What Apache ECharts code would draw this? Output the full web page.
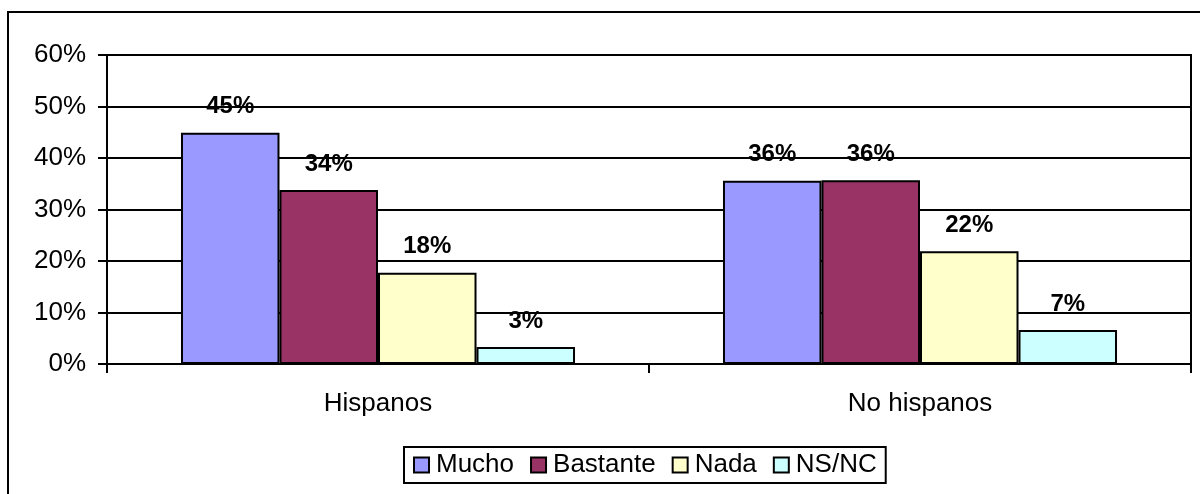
<!DOCTYPE html>
<html>
<head>
<meta charset="utf-8">
<script src="https://cdn.jsdelivr.net/npm/echarts@6/dist/echarts.min.js"></script>
<style>
  html, body { margin: 0; padding: 0; background: #fff; }
  #chart { width: 1200px; height: 494px; }
</style>
</head>
<body>
<div id="chart"></div>
<script>
// Categories and answer groups
const categories = ['Hispanos', 'No hispanos'];
const seriesNames = ['Mucho', 'Bastante', 'Nada', 'NS/NC'];

// Percentages per answer, one value per category
const mucho    = [44.9, 35.6];
const bastante = [33.8, 35.7];
const nada     = [17.7, 21.9];
const nsnc     = [3.3, 6.6];

// Y axis ticks (percent)
const yTicks = [0, 10, 20, 30, 40, 50, 60];

const colors = ['#9999FF', '#993366', '#FFFFCC', '#CCFFFF'];
const values = [mucho, bastante, nada, nsnc];
const FONT = '"Liberation Sans", Arial, sans-serif';

const chart = echarts.init(document.getElementById('chart'), null, { renderer: 'canvas' });

const series = seriesNames.map((name, i) => ({
  name: name,
  type: 'bar',
  data: values[i],
  barGap: '0%',
  barCategoryGap: '27.3%',
  itemStyle: { color: colors[i], borderColor: '#000', borderWidth: 2 },
  emphasis: { disabled: true },
  label: {
    show: true,
    position: 'top',
    distance: 14,
    color: '#000',
    fontFamily: FONT,
    fontWeight: 'bold',
    fontSize: 24,
    formatter: p => Math.round(p.value) + '%'
  }
}));

chart.setOption({
  animation: false,
  backgroundColor: '#fff',
  textStyle: { fontFamily: FONT },
  grid: {
    left: 107, top: 55, right: 9, bottom: 130,
    show: true, borderColor: '#000', borderWidth: 2
  },
  xAxis: {
    type: 'category',
    data: categories,
    boundaryGap: true,
    axisLine: { lineStyle: { color: '#000', width: 2 } },
    axisTick: { show: true, interval: 0, length: 9, lineStyle: { color: '#000', width: 2 } },
    axisLabel: { color: '#000', fontSize: 26, fontFamily: FONT, margin: 27 }
  },
  yAxis: {
    type: 'value',
    min: yTicks[0],
    max: yTicks[yTicks.length - 1],
    interval: yTicks[1] - yTicks[0],
    axisLine: { show: true, lineStyle: { color: '#000', width: 2 } },
    axisTick: { show: true, length: 9, lineStyle: { color: '#000', width: 2 } },
    axisLabel: { color: '#000', fontSize: 26, fontFamily: FONT, margin: 21, formatter: '{value}%' },
    splitLine: { show: true, lineStyle: { color: '#000', width: 2 } }
  },
  legend: {
    data: seriesNames.map(n => ({ name: n, icon: 'rect' })),
    left: 404,
    top: 447,
    orient: 'horizontal',
    itemWidth: 15,
    itemHeight: 15,
    itemGap: 16,
    padding: [5, 9, 5, 9],
    borderColor: '#000',
    borderWidth: 2,
    backgroundColor: '#fff',
    selectedMode: false,
    itemStyle: { borderColor: '#000', borderWidth: 2 },
    textStyle: { color: '#000', fontSize: 26, fontFamily: FONT, padding: [0, 0, 0, 2] }
  },
  graphic: [{
    type: 'rect',
    silent: true,
    z: 100,
    shape: { x: 8, y: 12, width: 1200, height: 500 },
    style: { fill: 'none', stroke: '#000', lineWidth: 2 }
  }],
  series: series
});
</script>
</body>
</html>
